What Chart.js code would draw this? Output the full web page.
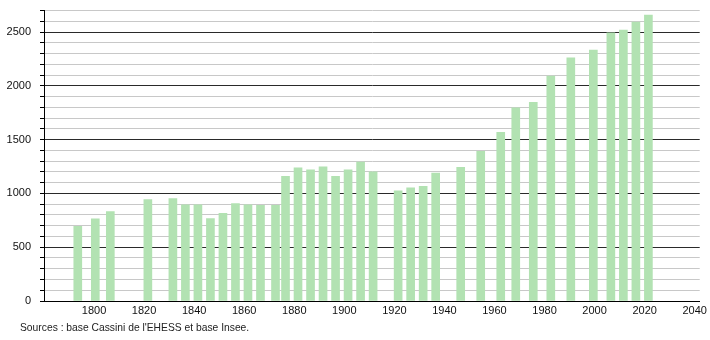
<!DOCTYPE html>
<html>
<head>
<meta charset="utf-8">
<script src="https://cdn.jsdelivr.net/npm/chart.js@4"></script>
<style>
  body { margin: 0; background: #fff; overflow: hidden; }
  #wrap { position: relative; width: 710px; height: 340px; overflow: hidden; }
  #grafica { position: absolute; left: 0; top: -5px; }
  #source { position: absolute; left: 20px; top: 322px; font: 10.3px "Liberation Sans", Arial, sans-serif; color: #222; }
</style>
</head>
<body>
<div id="wrap">
  <canvas id="grafica" width="710" height="346"></canvas>
  <div id="source">Sources : base Cassini de l'EHESS et base Insee.</div>
</div>
<script>
// annees de recensement et population
var years = [1793, 1800, 1806, 1821, 1831, 1836, 1841, 1846, 1851, 1856, 1861, 1866, 1872, 1876,
  1881, 1886, 1891, 1896, 1901, 1906, 1911, 1921, 1926, 1931, 1936, 1946, 1954, 1962, 1968,
  1975, 1982, 1990, 1999, 2006, 2011, 2016, 2021];
var population = [694, 763, 831, 943, 953, 894, 894, 766, 816, 906, 894, 890, 890, 1158,
  1239, 1220, 1248, 1158, 1220, 1292, 1202, 1024, 1052, 1065, 1189, 1242, 1392, 1569, 1796,
  1846, 2092, 2260, 2332, 2494, 2519, 2593, 2659];
var xTicks = [1800, 1820, 1840, 1860, 1880, 1900, 1920, 1940, 1960, 1980, 2000, 2020, 2040];
var yLabels = [0, 500, 1000, 1500, 2000, 2500];

var points = years.map(function (y, i) { return { x: y + 0.5, y: population[i] }; });

var ctx = document.getElementById("grafica").getContext("2d");
var myChart = new Chart(ctx, {
  type: 'bar',
  data: {
    datasets: [{
      label: "",
      backgroundColor: "rgb(178, 226, 178)",
      borderWidth: 0,
      barThickness: 8,
      data: points
    }]
  },
  options: {
    responsive: false,
    animation: false,
    layout: { padding: { left: 0, right: 8, top: 4, bottom: 0 } },
    plugins: {
      legend: { display: false },
      tooltip: { enabled: false }
    },
    scales: {
      x: {
        type: 'linear',
        min: 1780,
        max: 2042,
        offset: false,
        grid: { display: false, drawTicks: false },
        border: { color: '#000', width: 1 },
        ticks: {
          color: '#111',
          font: { family: 'Liberation Sans', size: 11 },
          padding: 3,
          maxRotation: 0,
          autoSkip: false,
          callback: function (v) { return String(v); }
        },
        afterBuildTicks: function (scale) {
          scale.ticks = xTicks.map(function (v) { return { value: v }; });
        },
        afterFit: function (scale) { scale.height = 40; }
      },
      y: {
        min: 0,
        max: 2700,
        grid: {
          color: function (c) {
            if (c.tick.value === 0) return 'rgba(0,0,0,0)';
            return c.tick.value % 500 === 0 ? '#2a2a2a' : '#c8c8c8';
          },
          tickColor: '#000',
          tickLength: 4,
          lineWidth: 1
        },
        border: { color: '#000', width: 1 },
        ticks: {
          stepSize: 100,
          autoSkip: false,
          color: '#111',
          font: { family: 'Liberation Sans', size: 11 },
          padding: 9,
          callback: function (v) { return yLabels.indexOf(v) >= 0 ? String(v) : ''; }
        },
        afterFit: function (scale) { scale.width = 44; }
      }
    }
  }
});
</script>
</body>
</html>
